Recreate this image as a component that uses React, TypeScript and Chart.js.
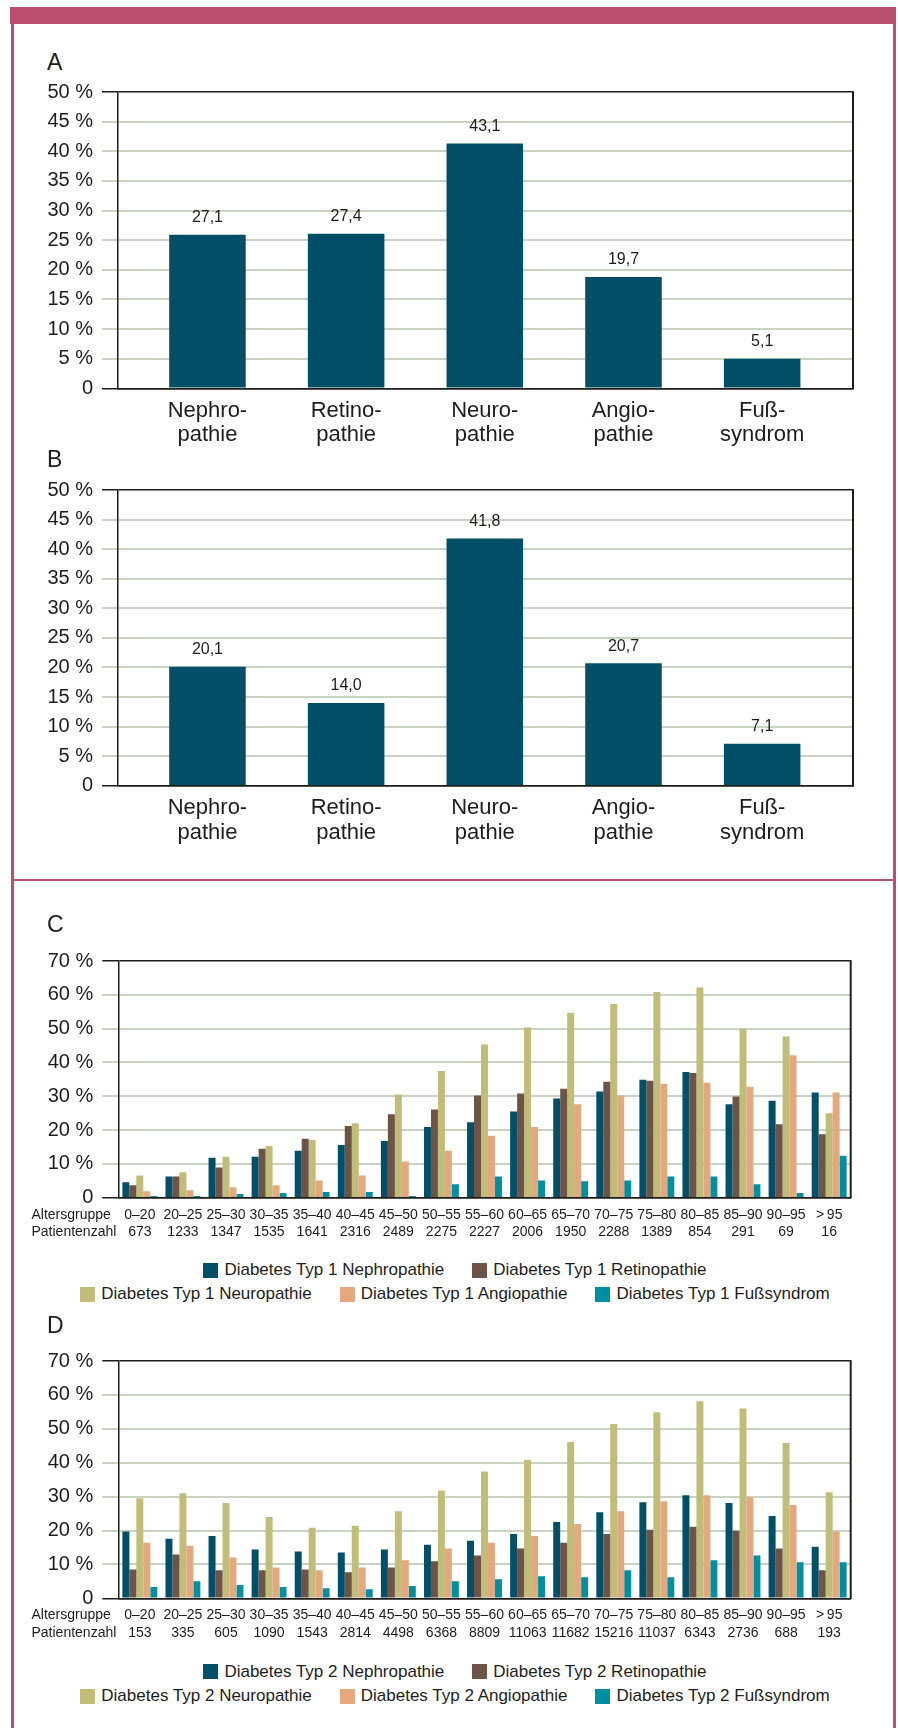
import React, { useEffect, useRef } from 'react';
import { Chart, registerables } from 'chart.js';

Chart.register(...registerables);

const FONT = "'Liberation Sans', Arial, Helvetica, sans-serif";
const TEXT = '#1d1d1b';
const GRID = '#c8d3c1';
const AXIS = '#1d1d1b';
const PINK = '#b94e6e';
const NAVY = '#034f68';

// ---------- Panels A / B ----------
const complicationLabels = [
  ['Nephro-', 'pathie'],
  ['Retino-', 'pathie'],
  ['Neuro-', 'pathie'],
  ['Angio-', 'pathie'],
  ['Fuß-', 'syndrom'],
];
const panelAValues = [25.9, 26.1, 41.3, 18.8, 5.0];
const panelAText = ['27,1', '27,4', '43,1', '19,7', '5,1'];
const panelBValues = [20.1, 14.0, 41.8, 20.7, 7.1];
const panelBText = ['20,1', '14,0', '41,8', '20,7', '7,1'];

// ---------- Panels C / D ----------
const ageGroups = ['0–20', '20–25', '25–30', '30–35', '35–40', '40–45', '45–50', '50–55', '55–60', '60–65', '65–70', '70–75', '75–80', '80–85', '85–90', '90–95', '>\u200995'];
const rowTitles = ['Altersgruppe', 'Patientenzahl'];
const type1Counts = ['673', '1233', '1347', '1535', '1641', '2316', '2489', '2275', '2227', '2006', '1950', '2288', '1389', '854', '291', '69', '16'];
const type2Counts = ['153', '335', '605', '1090', '1543', '2814', '4498', '6368', '8809', '11063', '11682', '15216', '11037', '6343', '2736', '688', '193'];

const seriesNames = ['Nephropathie', 'Retinopathie', 'Neuropathie', 'Angiopathie', 'Fußsyndrom'];
const seriesColors = ['#034f68', '#6e5447', '#c2bc79', '#e4a87f', '#008fa1'];

const t1Nephro = [4.6, 6.3, 11.8, 12.1, 13.9, 15.6, 16.8, 20.9, 22.3, 25.5, 29.3, 31.4, 34.9, 37.2, 27.6, 28.7, 31.1];
const t1Retino = [3.7, 6.3, 8.9, 14.5, 17.4, 21.2, 24.7, 26.1, 30.2, 30.8, 32.2, 34.3, 34.6, 36.9, 29.9, 21.7, 18.8];
const t1Neuro = [6.6, 7.5, 12.1, 15.3, 17.1, 22.0, 30.5, 37.5, 45.3, 50.3, 54.7, 57.3, 60.8, 62.2, 50.0, 47.7, 25.0];
const t1Angio = [1.9, 2.2, 3.1, 3.7, 5.1, 6.6, 10.7, 13.9, 18.3, 20.9, 27.6, 30.2, 33.7, 34.0, 32.8, 42.1, 31.1];
const t1Fuss = [0.5, 0.5, 1.1, 1.4, 1.7, 1.7, 0.5, 4.0, 6.3, 5.1, 4.9, 5.1, 6.3, 6.3, 4.0, 1.4, 12.4];

const t2Nephro = [19.7, 17.6, 18.4, 14.4, 13.8, 13.5, 14.4, 15.8, 17.0, 19.0, 22.5, 25.4, 28.3, 30.4, 28.1, 24.3, 15.2];
const t2Retino = [8.5, 12.9, 8.3, 8.3, 8.5, 7.7, 9.1, 10.9, 12.6, 14.7, 16.4, 19.0, 20.2, 21.1, 19.9, 14.7, 8.3];
const t2Neuro = [29.5, 31.0, 28.1, 24.0, 20.8, 21.4, 25.7, 31.8, 37.4, 40.9, 46.1, 51.4, 54.9, 58.1, 56.0, 45.8, 31.3];
const t2Angio = [16.4, 15.5, 12.0, 9.1, 8.3, 9.1, 11.2, 14.7, 16.4, 18.4, 21.9, 25.7, 28.6, 30.4, 29.8, 27.5, 19.6];
const t2Fuss = [3.3, 5.0, 3.9, 3.3, 3.0, 2.7, 3.6, 5.0, 5.6, 6.5, 6.2, 8.3, 6.2, 11.2, 12.6, 10.6, 10.6];

const type1Series = [t1Nephro, t1Retino, t1Neuro, t1Angio, t1Fuss];
const type2Series = [t2Nephro, t2Retino, t2Neuro, t2Angio, t2Fuss];

// ---------- helpers ----------
function yAxis(max: number, step: number, width: number) {
  const isEdge = (c: any) => c && c.tick && (c.tick.value === 0 || c.tick.value === max);
  return {
    min: 0,
    max,
    afterFit: (s: any) => { s.width = width; },
    ticks: {
      stepSize: step,
      padding: 9,
      color: TEXT,
      font: { family: FONT, size: 20 },
      callback: (v: any) => (v === 0 ? '0' : `${v} %`),
    },
    grid: {
      color: (c: any) => (isEdge(c) ? AXIS : GRID),
      lineWidth: (c: any) => (isEdge(c) ? 1.5 : 2),
      tickLength: 16,
      drawTicks: true,
    },
    border: { display: true, color: AXIS, width: 1.5 },
  };
}

const framePlugin = {
  id: 'frame',
  afterDraw(chart: any) {
    const { ctx, chartArea } = chart;
    ctx.save();
    ctx.strokeStyle = AXIS;
    ctx.lineWidth = 2;
    ctx.beginPath();
    ctx.moveTo(chartArea.right, chartArea.top - 0.75);
    ctx.lineTo(chartArea.right, chartArea.bottom + 0.75);
    ctx.stroke();
    ctx.restore();
  },
};

const valueLabelPlugin = (texts: string[]) => ({
  id: 'valueLabels',
  afterDatasetsDraw(chart: any) {
    const { ctx } = chart;
    const meta = chart.getDatasetMeta(0);
    ctx.save();
    ctx.font = `16px ${FONT}`;
    ctx.fillStyle = TEXT;
    ctx.textAlign = 'center';
    ctx.textBaseline = 'middle';
    meta.data.forEach((el: any, i: number) => {
      ctx.fillText(texts[i], el.x, el.y - 17);
    });
    ctx.restore();
  },
});

const rowTitlePlugin = {
  id: 'rowTitles',
  afterDraw(chart: any) {
    const { ctx, chartArea } = chart;
    ctx.save();
    ctx.font = `14px ${FONT}`;
    ctx.fillStyle = TEXT;
    ctx.textAlign = 'left';
    ctx.textBaseline = 'middle';
    rowTitles.forEach((t, i) => ctx.fillText(t, 31.5, chartArea.bottom + 17.3 + i * 17.2));
    ctx.restore();
  },
};

function complicationConfig(values: number[], texts: string[], padTop: number, xHeight: number) {
  return {
    type: 'bar',
    data: {
      datasets: [{
        data: values.map((y, x) => ({ x, y })),
        backgroundColor: NAVY,
        categoryPercentage: 0.552,
        barPercentage: 1,
      }],
    },
    options: {
      responsive: false,
      animation: false,
      devicePixelRatio: 1,
      layout: { padding: { top: padTop, right: 45, bottom: 0, left: 0 } },
      plugins: { legend: { display: false }, tooltip: { enabled: false } },
      scales: {
        x: {
          type: 'linear',
          offset: false,
          min: -0.645,
          max: 4.655,
          afterFit: (s: any) => { s.height = xHeight; },
          grid: { display: true, drawOnChartArea: false, drawTicks: false, color: 'rgba(0,0,0,0)' },
          border: { display: true, color: AXIS, width: 1.5 },
          ticks: {
            stepSize: 1,
            includeBounds: false,
            autoSkip: false,
            maxRotation: 0,
            minRotation: 0,
            padding: 10,
            color: TEXT,
            font: { family: FONT, size: 22, lineHeight: 1.12 },
            callback: (v: any) => complicationLabels[v] ?? '',
          },
        },
        y: yAxis(50, 5, 118),
      },
    },
    plugins: [framePlugin, valueLabelPlugin(texts)],
  };
}

function ageConfig(series: number[][], counts: string[], typ: string, padTop: number, xHeight: number) {
  return {
    type: 'bar',
    data: {
      labels: ageGroups.map((a, i) => [a, counts[i]]),
      datasets: series.map((d, i) => ({
        label: `Diabetes Typ ${typ} ${seriesNames[i]}`,
        data: d,
        backgroundColor: seriesColors[i],
        categoryPercentage: 0.81,
        barPercentage: 1,
      })),
    },
    options: {
      responsive: false,
      animation: false,
      devicePixelRatio: 1,
      layout: { padding: { top: padTop, right: 47.3, bottom: 0, left: 0 } },
      plugins: { legend: { display: false }, tooltip: { enabled: false } },
      scales: {
        x: {
          afterFit: (s: any) => { s.height = xHeight; },
          grid: { display: true, drawOnChartArea: false, drawTicks: false, color: 'rgba(0,0,0,0)' },
          border: { display: true, color: AXIS, width: 1.5 },
          ticks: {
            autoSkip: false,
            maxRotation: 0,
            minRotation: 0,
            padding: 8.7,
            color: TEXT,
            font: { family: FONT, size: 14, lineHeight: 1.23 },
          },
        },
        y: yAxis(70, 10, 118.3),
      },
    },
    plugins: [framePlugin, rowTitlePlugin],
  };
}

function ChartCanvas({ top, height, makeConfig }: { top: number; height: number; makeConfig: () => any }) {
  const ref = useRef<HTMLCanvasElement | null>(null);
  useEffect(() => {
    if (!ref.current) return;
    const chart = new Chart(ref.current, makeConfig());
    return () => chart.destroy();
  }, []);
  return (
    <canvas
      ref={ref}
      width={898}
      height={height}
      style={{ position: 'absolute', left: 0, top, width: 898, height }}
    />
  );
}

function PanelLetter({ text, centerY }: { text: string; centerY: number }) {
  return (
    <div style={{ position: 'absolute', left: 47, top: centerY - 11.3, font: `23px ${FONT}`, lineHeight: 1, color: TEXT }}>
      {text}
    </div>
  );
}

const legendRows = [[0, 1], [2, 3, 4]];

function HtmlLegend({ typ, centers }: { typ: string; centers: number[] }) {
  return (
    <>
      {legendRows.map((row, r) => (
        <div
          key={r}
          style={{
            position: 'absolute', left: 12, width: 886, top: centers[r] - 11, height: 22,
            display: 'flex', justifyContent: 'center', alignItems: 'center', gap: 28,
            font: `17px ${FONT}`, color: TEXT, whiteSpace: 'nowrap',
          }}
        >
          {row.map((i) => (
            <div key={i} style={{ display: 'flex', alignItems: 'center' }}>
              <span style={{ display: 'inline-block', width: 15, height: 15, background: seriesColors[i], marginRight: 6 }} />
              <span style={{ lineHeight: '20px' }}>{`Diabetes Typ ${typ} ${seriesNames[i]}`}</span>
            </div>
          ))}
        </div>
      ))}
    </>
  );
}

export default function App() {
  return (
    <div style={{ position: 'absolute', left: 0, top: 0, width: 898, height: 1728, background: '#fff', overflow: 'hidden' }}>
      {/* frame */}
      <div style={{ position: 'absolute', left: 10, top: 6.5, width: 886, height: 17, background: PINK }} />
      <div style={{ position: 'absolute', left: 11, top: 20, width: 2.5, height: 1708, background: PINK }} />
      <div style={{ position: 'absolute', left: 893.3, top: 20, width: 2.5, height: 1708, background: PINK }} />
      <div style={{ position: 'absolute', left: 11, top: 878.5, width: 884.8, height: 2.5, background: PINK }} />

      <PanelLetter text="A" centerY={62} />
      <ChartCanvas top={70} height={380} makeConfig={() => complicationConfig(panelAValues, panelAText, 22, 61.7)} />

      <PanelLetter text="B" centerY={459.3} />
      <ChartCanvas top={468} height={380} makeConfig={() => complicationConfig(panelBValues, panelBText, 22, 62.3)} />

      <PanelLetter text="C" centerY={924} />
      <ChartCanvas top={940} height={300} makeConfig={() => ageConfig(type1Series, type1Counts, '1', 17.3, 42.3)} />
      <HtmlLegend typ="1" centers={[1270, 1294.3]} />

      <PanelLetter text="D" centerY={1325} />
      <ChartCanvas top={1340} height={300} makeConfig={() => ageConfig(type2Series, type2Counts, '2', 18, 41.7)} />
      <HtmlLegend typ="2" centers={[1671.7, 1696]} />
    </div>
  );
}
